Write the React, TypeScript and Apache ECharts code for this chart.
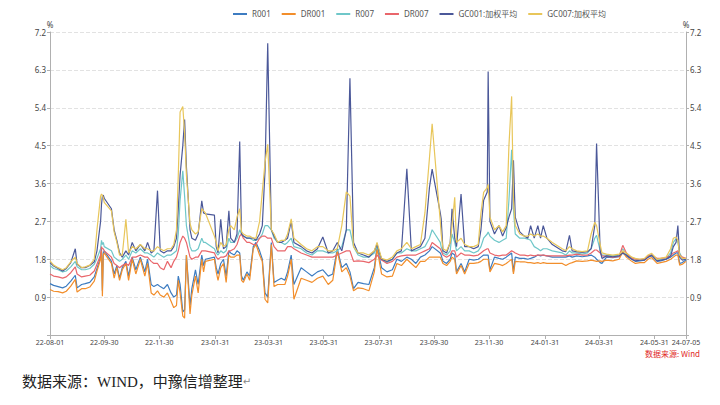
import React, { useEffect, useRef } from "react";
import * as echarts from "echarts";

const sampleDates = [
  "2022-08-01","2022-08-05","2022-08-10","2022-08-15","2022-08-19","2022-08-24","2022-08-29","2022-08-31","2022-09-05","2022-09-09",
  "2022-09-14","2022-09-19","2022-09-22","2022-09-26","2022-09-27","2022-09-28","2022-09-29","2022-09-30","2022-10-08","2022-10-11",
  "2022-10-14","2022-10-17","2022-10-20","2022-10-24","2022-10-27","2022-10-31","2022-11-04","2022-11-09","2022-11-14","2022-11-17",
  "2022-11-21","2022-11-24","2022-11-28","2022-12-01","2022-12-05","2022-12-09","2022-12-13","2022-12-16","2022-12-19","2022-12-21",
  "2022-12-23","2022-12-26","2022-12-28","2022-12-30","2023-01-03","2023-01-05","2023-01-09","2023-01-12","2023-01-16","2023-01-18",
  "2023-01-20","2023-01-30","2023-02-01","2023-02-03","2023-02-06","2023-02-09","2023-02-12","2023-02-15","2023-02-17","2023-02-21",
  "2023-02-24","2023-02-27","2023-03-01","2023-03-03","2023-03-07","2023-03-10","2023-03-14","2023-03-17","2023-03-21","2023-03-24",
  "2023-03-27","2023-03-30","2023-04-03","2023-04-06","2023-04-10","2023-04-14","2023-04-18","2023-04-21","2023-04-25","2023-04-28",
  "2023-05-06","2023-05-12","2023-05-18","2023-05-24","2023-05-30","2023-06-05","2023-06-10","2023-06-15","2023-06-20","2023-06-25",
  "2023-06-29","2023-07-03","2023-07-08","2023-07-14","2023-07-20","2023-07-26","2023-07-29","2023-08-03","2023-08-09","2023-08-15",
  "2023-08-20","2023-08-25","2023-08-31","2023-09-05","2023-09-10","2023-09-15","2023-09-20","2023-09-25","2023-09-28","2023-10-07",
  "2023-10-08","2023-10-10","2023-10-14","2023-10-18","2023-10-20","2023-10-23","2023-10-25","2023-10-30","2023-11-03","2023-11-08",
  "2023-11-13","2023-11-18","2023-11-21","2023-11-24","2023-11-28","2023-11-29","2023-12-01","2023-12-06","2023-12-11","2023-12-15",
  "2023-12-19","2023-12-22","2023-12-25","2023-12-27","2023-12-29","2024-01-03","2024-01-08","2024-01-12","2024-01-15","2024-01-19",
  "2024-01-23","2024-01-26","2024-01-29","2024-02-02","2024-02-08","2024-02-19","2024-02-23","2024-02-27","2024-03-01","2024-03-06",
  "2024-03-12","2024-03-18","2024-03-22","2024-03-26","2024-03-28","2024-04-01","2024-04-03","2024-04-08","2024-04-15","2024-04-22",
  "2024-04-26","2024-04-30","2024-05-06","2024-05-10","2024-05-15","2024-05-20","2024-05-24","2024-05-28","2024-06-03","2024-06-07",
  "2024-06-13","2024-06-18","2024-06-21","2024-06-24","2024-06-26","2024-06-28","2024-07-01","2024-07-05",
];

const r001 = [
  1.22,1.18,1.15,1.12,1.16,1.28,1.42,1.12,1.20,1.22,
  1.25,1.38,1.58,1.85,2.05,1.05,1.95,2.00,1.75,1.45,
  1.65,1.35,1.60,1.75,1.40,1.85,1.55,1.85,1.50,1.80,
  1.20,1.15,1.20,1.15,1.10,1.20,1.00,0.90,0.95,1.40,
  1.20,0.55,0.60,1.90,0.70,1.10,1.55,1.20,1.90,1.65,
  1.80,1.85,1.60,1.45,1.70,1.80,1.40,2.00,1.95,1.90,
  2.00,1.95,1.40,1.30,1.50,1.40,2.10,2.20,2.00,1.80,
  1.00,0.90,2.20,1.25,1.30,1.35,1.30,1.50,1.90,1.20,
  1.60,1.50,1.40,1.50,1.55,1.40,1.45,2.05,1.60,1.70,
  1.50,1.10,1.25,1.22,1.20,1.60,2.10,1.60,1.50,1.55,
  1.80,1.75,1.85,1.80,1.70,1.85,1.90,2.00,2.10,1.95,
  1.90,1.75,1.70,1.80,1.95,1.90,1.50,1.70,1.50,1.80,
  1.78,1.80,1.85,1.90,1.90,1.90,1.55,1.85,1.82,1.80,
  1.85,1.90,1.95,1.50,1.85,1.82,1.82,1.80,1.82,1.85,
  1.90,1.88,1.90,1.88,1.85,1.85,1.85,1.88,1.85,1.88,
  1.86,1.88,1.90,1.85,1.80,1.72,1.70,1.85,1.84,1.86,
  1.95,1.88,1.80,1.75,1.76,1.78,1.85,1.88,1.75,1.76,
  1.80,1.85,1.90,1.95,1.95,1.70,1.72,1.78,
];

const dr001 = [
  1.08,1.04,1.03,1.00,1.04,1.16,1.32,1.02,1.10,1.10,
  1.14,1.28,1.52,1.80,2.00,0.92,1.90,1.95,1.70,1.35,
  1.60,1.30,1.55,1.70,1.30,1.80,1.45,1.80,1.40,1.70,
  1.00,0.95,1.05,0.95,0.90,1.00,0.80,0.65,0.70,1.30,
  1.00,0.45,0.40,1.90,0.50,0.95,1.40,1.00,1.80,1.50,
  1.75,1.80,1.50,1.30,1.60,1.70,1.25,1.90,1.85,1.85,
  1.90,1.90,1.30,1.25,1.45,1.30,2.05,2.15,1.90,1.75,
  0.85,0.76,2.15,1.15,1.20,1.20,1.20,1.40,1.80,0.85,
  1.35,1.30,1.25,1.35,1.40,1.20,1.30,2.00,1.50,1.60,
  1.40,1.05,1.12,1.10,1.05,1.50,2.05,1.45,1.38,1.40,
  1.70,1.65,1.80,1.70,1.60,1.75,1.75,1.85,1.85,1.85,
  1.80,1.70,1.65,1.75,1.85,1.80,1.45,1.65,1.45,1.70,
  1.70,1.72,1.75,1.80,1.80,1.80,1.50,1.70,1.68,1.65,
  1.70,1.75,1.80,1.45,1.75,1.74,1.74,1.72,1.72,1.70,
  1.72,1.70,1.72,1.70,1.70,1.70,1.65,1.70,1.72,1.76,
  1.75,1.76,1.78,1.76,1.75,1.76,1.75,1.78,1.76,1.80,
  1.98,1.85,1.75,1.70,1.72,1.72,1.80,1.84,1.70,1.72,
  1.75,1.80,1.85,1.90,1.90,1.66,1.68,1.75,
];

const r007 = [
  1.65,1.58,1.55,1.50,1.52,1.62,1.75,1.62,1.55,1.55,
  1.58,1.68,1.82,2.05,2.25,2.15,2.20,2.10,2.00,1.85,
  1.80,1.75,1.80,1.90,1.80,2.00,1.95,2.05,1.95,1.95,
  1.90,1.85,1.95,1.90,1.85,1.90,1.90,1.95,2.00,2.40,
  3.20,3.90,3.30,2.60,2.10,2.00,2.00,2.05,2.30,2.20,
  2.20,2.05,1.95,1.90,2.00,1.95,2.00,2.30,2.20,2.20,
  2.30,2.50,2.40,2.35,2.30,2.30,2.25,2.25,2.30,2.40,
  2.60,2.60,2.50,2.30,2.20,2.20,2.15,2.20,2.30,2.10,
  2.05,1.95,1.90,2.00,2.00,1.95,1.95,2.00,2.10,2.50,
  2.50,2.10,1.90,1.85,1.85,1.95,2.10,1.80,1.72,1.80,
  1.95,1.95,2.05,2.00,2.00,2.05,2.10,2.30,2.50,2.20,
  2.10,1.95,1.90,2.00,2.40,2.20,2.00,2.10,2.00,2.00,
  1.95,2.00,2.10,2.30,2.40,2.45,2.35,2.25,2.20,2.25,
  2.30,3.20,4.40,3.00,2.40,2.30,2.30,2.28,2.25,2.10,
  2.05,2.00,2.05,2.05,2.00,1.95,1.90,2.00,1.95,1.95,
  1.92,1.95,2.05,2.30,2.37,2.00,1.90,1.90,1.88,1.90,
  2.05,1.92,1.84,1.80,1.78,1.80,1.88,1.90,1.80,1.80,
  1.82,1.95,2.20,2.29,2.20,1.95,1.82,1.80,
];

const dr007 = [
  1.45,1.40,1.38,1.35,1.38,1.48,1.62,1.45,1.38,1.40,
  1.42,1.52,1.68,1.90,2.10,2.05,2.05,2.00,1.85,1.70,
  1.65,1.60,1.65,1.70,1.65,1.85,1.85,1.90,1.85,1.85,
  1.75,1.70,1.70,1.60,1.55,1.75,1.60,1.75,1.85,2.00,
  2.20,2.35,2.30,2.20,1.85,1.80,1.85,1.85,2.00,2.00,
  2.00,1.95,1.85,1.80,1.85,1.85,1.88,2.00,2.00,2.05,
  2.15,2.35,2.40,2.30,2.20,2.20,2.15,2.15,2.30,2.35,
  2.35,2.30,2.30,2.10,2.00,2.00,2.00,2.10,2.10,2.05,
  1.95,1.90,1.85,1.85,1.85,1.85,1.85,1.90,1.95,2.00,
  2.00,1.75,1.76,1.75,1.72,1.80,1.90,1.78,1.70,1.75,
  1.85,1.88,1.90,1.90,1.90,1.95,2.00,2.05,2.20,2.05,
  2.00,1.90,1.85,1.90,2.00,2.00,1.85,1.95,1.90,1.90,
  1.88,1.90,1.95,2.00,2.05,2.05,1.95,1.90,1.88,1.90,
  1.90,1.95,2.00,1.98,1.95,1.90,1.90,1.88,1.90,1.88,
  1.90,1.90,1.90,1.88,1.88,1.88,1.88,1.90,1.90,1.92,
  1.90,1.90,1.95,2.02,2.02,1.95,1.88,1.87,1.85,1.87,
  2.13,1.95,1.82,1.80,1.80,1.80,1.88,1.90,1.82,1.82,
  1.84,1.88,1.95,1.98,2.00,1.90,1.85,1.82,
];

const gc001 = [
  1.72,1.64,1.58,1.52,1.58,1.72,2.05,1.68,1.60,1.60,
  1.65,1.74,2.00,2.70,3.10,3.30,3.32,3.25,3.00,2.50,
  2.25,1.95,1.85,2.00,1.90,2.20,2.00,2.15,2.00,2.20,
  1.95,2.00,3.43,2.00,1.95,2.00,2.00,2.10,2.30,3.00,
  3.80,4.50,5.12,4.00,2.50,2.30,2.25,2.40,3.19,2.90,
  2.88,2.85,2.10,1.95,2.75,2.05,2.10,2.95,2.30,2.20,
  2.40,4.60,2.40,2.35,2.30,2.30,2.30,2.25,2.40,2.60,
  3.90,6.93,2.50,2.35,2.20,2.20,2.25,2.30,2.70,2.20,
  2.10,2.00,1.95,2.05,2.33,1.95,2.00,2.20,2.00,2.50,
  6.10,2.20,1.95,1.90,1.85,2.00,2.15,1.80,1.75,1.80,
  1.95,2.00,3.95,2.00,2.05,2.10,2.30,3.50,3.94,2.90,
  2.76,2.00,1.95,2.20,3.00,2.30,2.10,3.35,2.10,2.10,
  2.05,2.10,2.50,3.20,3.40,6.26,2.70,2.40,2.60,2.35,
  2.55,2.80,3.00,4.15,2.80,2.45,2.35,2.30,2.60,2.30,
  2.60,2.30,2.60,2.30,2.15,2.00,1.98,2.37,2.00,1.98,
  1.96,1.98,2.05,2.60,4.55,2.00,1.82,1.88,1.86,1.88,
  1.95,1.90,1.80,1.76,1.78,1.78,1.85,1.90,1.76,1.78,
  1.80,1.88,2.10,2.20,2.60,1.85,1.78,1.80,
];

const gc007 = [
  1.76,1.66,1.60,1.55,1.60,1.74,1.85,1.70,1.60,1.62,
  1.66,1.80,2.50,3.30,3.35,3.32,3.25,3.15,2.95,2.45,
  2.20,1.90,1.90,2.75,1.95,2.10,2.05,2.15,2.05,2.05,
  2.00,2.00,2.10,2.05,2.00,2.05,2.05,2.15,2.50,3.80,
  5.30,5.43,4.80,3.80,2.65,2.50,2.40,2.45,3.00,2.95,
  2.90,2.35,2.20,2.00,2.20,2.10,2.15,2.50,2.60,2.50,
  2.80,3.00,2.45,2.40,2.35,2.35,2.30,2.30,2.70,3.40,
  4.10,4.53,2.50,2.40,2.20,2.25,2.25,2.40,2.76,2.30,
  2.15,2.05,2.00,2.10,2.10,2.00,2.00,2.05,2.60,3.40,
  3.30,2.10,1.95,1.95,1.90,2.00,2.20,1.82,1.78,1.85,
  2.00,2.05,2.20,2.05,2.10,2.15,2.90,4.20,5.02,2.70,
  2.40,2.05,2.00,2.20,2.60,3.27,2.20,2.30,2.15,2.10,
  2.10,2.15,2.90,3.39,3.50,3.58,2.80,2.50,2.60,2.45,
  2.60,4.50,5.67,3.20,2.60,2.40,2.35,2.35,2.40,2.35,
  2.40,2.35,2.35,2.30,2.20,2.05,2.00,2.10,2.05,2.00,
  1.98,2.00,2.40,2.68,2.60,2.15,1.95,1.92,1.90,1.92,
  2.00,1.95,1.85,1.82,1.80,1.82,1.90,1.94,1.80,1.82,
  1.85,2.05,2.30,2.33,2.25,1.90,1.82,1.82,
];

const seriesNames = ["R001", "DR001", "R007", "DR007", "GC001:加权平均", "GC007:加权平均"];
const seriesColors = ["#3d7cc1", "#f28e2b", "#6fc7c9", "#e9666b", "#4b5899", "#e8c65a"];
const tickLabels = [
  "22-08-01","22-09-30","22-11-30","23-01-31","23-03-31","23-05-31","23-07-31",
  "23-09-30","23-11-30","24-01-31","24-03-31","24-05-31","24-07-05",
];

function buildCategories(start: string, end: string): string[] {
  const out: string[] = [];
  const d = new Date(start + "T00:00:00Z");
  const e = new Date(end + "T00:00:00Z");
  while (d.getTime() <= e.getTime()) {
    out.push(d.toISOString().slice(2, 10));
    d.setUTCDate(d.getUTCDate() + 1);
  }
  return out;
}

export default function App() {
  const ref = useRef<HTMLDivElement>(null);
  useEffect(() => {
    if (!ref.current) return;
    const chart = echarts.init(ref.current, undefined, { renderer: "svg" });
    const categories = buildCategories("2022-08-01", "2024-07-05");
    const idx = new Map<string, number>();
    categories.forEach((c, i) => idx.set(c, i));
    const toSeries = (vals: number[]) => {
      const arr: (number | null)[] = new Array(categories.length).fill(null);
      sampleDates.forEach((d, i) => {
        const k = idx.get(d.slice(2));
        if (k !== undefined) arr[k] = vals[i];
      });
      return arr;
    };
    const allVals = [r001, dr001, r007, dr007, gc001, gc007];
    const tickSet = new Set(tickLabels);
    const showTick = (_i: number, v: string) => tickSet.has(v);
    const yAxisCommon = {
      type: "value",
      min: 0,
      max: 7.2,
      interval: 0.9,
      name: "%",
      nameLocation: "end",
      nameGap: 4,
      nameTextStyle: { fontSize: 8, color: "#444" },
      axisLine: { show: true, lineStyle: { color: "#b0b0b0" } },
      axisTick: { show: true, length: 3, lineStyle: { color: "#b0b0b0" } },
      axisLabel: {
        fontSize: 8,
        color: "#444",
        margin: 4,
        formatter: (v: number) => (v === 0 ? "" : v.toFixed(1)),
      },
    };
    chart.setOption({
      animation: false,
      backgroundColor: "#fff",
      textStyle: { fontFamily: "'Noto Sans', 'Noto Sans CJK SC', sans-serif" },
      color: seriesColors,
      legend: {
        top: 5,
        left: 228,
        icon: "rect",
        itemWidth: 14,
        itemHeight: 2,
        itemGap: 11,
        textStyle: { fontSize: 8, color: "#555" },
        data: seriesNames,
      },
      grid: { left: 50, right: 34, top: 32, bottom: 70, containLabel: false },
      xAxis: {
        type: "category",
        data: categories,
        boundaryGap: false,
        axisLine: { lineStyle: { color: "#b0b0b0" } },
        axisTick: { interval: showTick, length: 4, lineStyle: { color: "#b0b0b0" } },
        axisLabel: {
          interval: showTick,
          fontSize: 7,
          color: "#444",
          margin: 4,
          hideOverlap: false,
          showMaxLabel: true,
        },
        splitLine: { show: false },
      },
      yAxis: [
        {
          ...yAxisCommon,
          position: "left",
          splitLine: { show: true, lineStyle: { type: "dashed", color: "#e2e2e2" } },
        },
        {
          ...yAxisCommon,
          position: "right",
          splitLine: { show: false },
        },
      ],
      series: seriesNames.map((name, i) => ({
        name,
        type: "line",
        data: toSeries(allVals[i]),
        connectNulls: true,
        symbol: "none",
        showSymbol: false,
        lineStyle: { width: 1.2, color: seriesColors[i] },
        itemStyle: { color: seriesColors[i] },
      })),
      graphic: [
        {
          type: "text",
          right: 20,
          top: 349,
          style: { text: "数据来源: Wind", fill: "#e0281e", fontSize: 8, fontFamily: "'Noto Sans CJK SC', sans-serif" },
        },
        {
          type: "text",
          left: 22,
          top: 374,
          style: {
            text: "数据来源：WIND，中豫信增整理{a|↵}",
            fill: "#222",
            fontSize: 15,
            fontFamily: "'Liberation Serif', 'Noto Sans CJK SC', serif",
            rich: { a: { fontSize: 10, fill: "#888", fontFamily: "'DejaVu Sans'" } },
          },
        },
      ],
    });
    return () => chart.dispose();
  }, []);
  return (
    <div
      ref={ref}
      style={{ position: "absolute", left: 0, top: 0, width: 720, height: 405, background: "#fff" }}
    />
  );
}
